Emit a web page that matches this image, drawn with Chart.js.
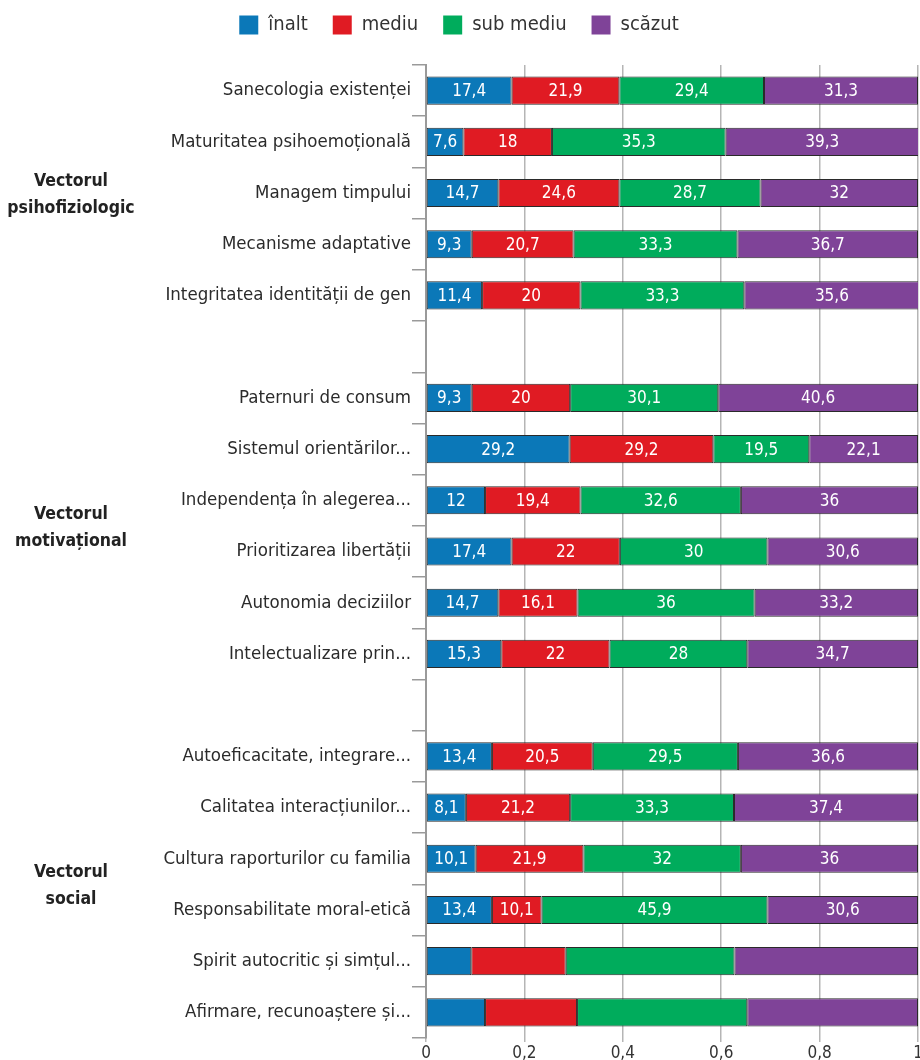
<!DOCTYPE html>
<html>
<head>
<meta charset="utf-8">
<script src="https://cdn.jsdelivr.net/npm/chart.js@4/dist/chart.umd.min.js"></script>
<style>
  html, body { margin: 0; padding: 0; background: #fff; }
  #wrap { width: 920px; height: 1060px; }
</style>
</head>
<body>
<div id="wrap"><canvas id="vectorChart"></canvas></div>
<script>
const FONT = "'Liberation Sans Narrow', 'DejaVu Sans Condensed', Roboto, sans-serif";

// rows, top to bottom ('' = spacer row between groups)
const categories = [
    'Sanecologia existenței',
    'Maturitatea psihoemoțională',
    'Managem timpului',
    'Mecanisme adaptative',
    'Integritatea identității de gen',
    '',
    'Paternuri de consum',
    'Sistemul orientărilor...',
    'Independența în alegerea...',
    'Prioritizarea libertății',
    'Autonomia deciziilor',
    'Intelectualizare prin...',
    '',
    'Autoeficacitate, integrare...',
    'Calitatea interacțiunilor...',
    'Cultura raporturilor cu familia',
    'Responsabilitate moral-etică',
    'Spirit autocritic și simțul...',
    'Afirmare, recunoaștere și...'
];

// percentages per level
const inalt    = [17.4, 7.6, 14.7, 9.3, 11.4, null, 9.3, 29.2, 12, 17.4, 14.7, 15.3, null, 13.4, 8.1, 10.1, 13.4, 9.2, 12];
const mediu    = [21.9, 18, 24.6, 20.7, 20, null, 20, 29.2, 19.4, 22, 16.1, 22, null, 20.5, 21.2, 21.9, 10.1, 19.2, 18.7];
const subMediu = [29.4, 35.3, 28.7, 33.3, 33.3, null, 30.1, 19.5, 32.6, 30, 36, 28, null, 29.5, 33.3, 32, 45.9, 34.3, 34.6];
const scazut   = [31.3, 39.3, 32, 36.7, 35.6, null, 40.6, 22.1, 36, 30.6, 33.2, 34.7, null, 36.6, 37.4, 36, 30.6, 37.3, 34.7];

// rows drawn without value labels
const unlabeledRows = [17, 18];

const groups = [
    { lines: ['Vectorul', 'psihofiziologic'], from: 0, to: 4 },
    { lines: ['Vectorul', 'motivațional'], from: 6, to: 11 },
    { lines: ['Vectorul', 'social'], from: 13, to: 18 }
];

const xTicks = [0, 20, 40, 60, 80, 100];

const fmt = v => String(v).replace('.', ',');

// extra space under the legend
const legendGap = {
    id: 'legendGap',
    beforeInit(chart) {
        const origFit = chart.legend.fit;
        chart.legend.fit = function fit() {
            origFit.bind(chart.legend)();
            this.height += 20;
        };
    }
};

// white numbers centred in each segment
const segmentLabels = {
    id: 'segmentLabels',
    afterDatasetsDraw(chart) {
        const ctx = chart.ctx;
        ctx.save();
        ctx.font = '17px ' + FONT;
        ctx.fillStyle = '#fff';
        ctx.textAlign = 'center';
        ctx.textBaseline = 'middle';
        chart.data.datasets.forEach((ds, i) => {
            const meta = chart.getDatasetMeta(i);
            meta.data.forEach((bar, j) => {
                const v = ds.data[j];
                if (v == null || unlabeledRows.includes(j)) return;
                ctx.fillText(fmt(v), (bar.x + bar.base) / 2, bar.y + 1);
            });
        });
        ctx.restore();
    }
};

// bold group names on the far left
const groupLabels = {
    id: 'groupLabels',
    afterDraw(chart) {
        const ctx = chart.ctx;
        const y = chart.scales.y;
        ctx.save();
        ctx.font = 'bold 17.5px ' + FONT;
        ctx.fillStyle = '#222';
        ctx.textAlign = 'center';
        ctx.textBaseline = 'middle';
        groups.forEach(g => {
            const mid = (y.getPixelForValue(g.from) + y.getPixelForValue(g.to)) / 2;
            const lh = 27;
            const top = mid - (g.lines.length - 1) * lh / 2 + 2;
            g.lines.forEach((t, k) => ctx.fillText(t, 71, top + k * lh));
        });
        ctx.restore();
    }
};

const mk = (label, data, color) => ({
    label, data,
    backgroundColor: color,
    borderColor: '#2a2a2a',
    borderWidth: 1,
    borderSkipped: false,
    barPercentage: 0.55,
    categoryPercentage: 1
});

new Chart(document.getElementById('vectorChart'), {
    type: 'bar',
    data: {
        labels: categories,
        datasets: [
            mk('înalt', inalt, '#0b78b8'),
            mk('mediu', mediu, '#e01b23'),
            mk('sub mediu', subMediu, '#00ac5c'),
            mk('scăzut', scazut, '#7f4398')
        ]
    },
    options: {
        indexAxis: 'y',
        responsive: true,
        maintainAspectRatio: false,
        animation: false,
        layout: { padding: { left: 0, right: 2, top: -10, bottom: 0 } },
        plugins: {
            legend: {
                position: 'top',
                labels: {
                    boxWidth: 19,
                    boxHeight: 19,
                    padding: 25,
                    color: '#333',
                    font: { family: FONT, size: 20 },
                    generateLabels(chart) {
                        return Chart.defaults.plugins.legend.labels.generateLabels(chart)
                            .map(l => ({ ...l, lineWidth: 0, strokeStyle: l.fillStyle }));
                    }
                }
            },
            tooltip: { enabled: false }
        },
        scales: {
            x: {
                stacked: true,
                min: 0,
                max: 100,
                afterBuildTicks(s) { s.ticks = xTicks.map(v => ({ value: v })); },
                afterFit(s) {
                    s.height = 22;
                    s.paddingRight = 0;
                    s.paddingLeft = 0;
                },
                border: { display: false },
                grid: { color: '#b5b5b5', lineWidth: 1.5, tickLength: 4 },
                ticks: {
                    color: '#333',
                    padding: 1,
                    font: { family: FONT, size: 17 },
                    callback: v => fmt(v / 100)
                }
            },
            y: {
                stacked: true,
                afterFit(s) { s.width = 426; },
                border: { color: '#9a9a9a', width: 2 },
                grid: {
                    offset: true,
                    drawOnChartArea: false,
                    drawTicks: true,
                    tickLength: 14,
                    color: '#9a9a9a',
                    lineWidth: 1.5
                },
                ticks: {
                    autoSkip: false,
                    color: '#2b2b2b',
                    padding: 1,
                    font: { family: FONT, size: 18.5 }
                }
            }
        }
    },
    plugins: [legendGap, segmentLabels, groupLabels]
});
</script>
</body>
</html>
